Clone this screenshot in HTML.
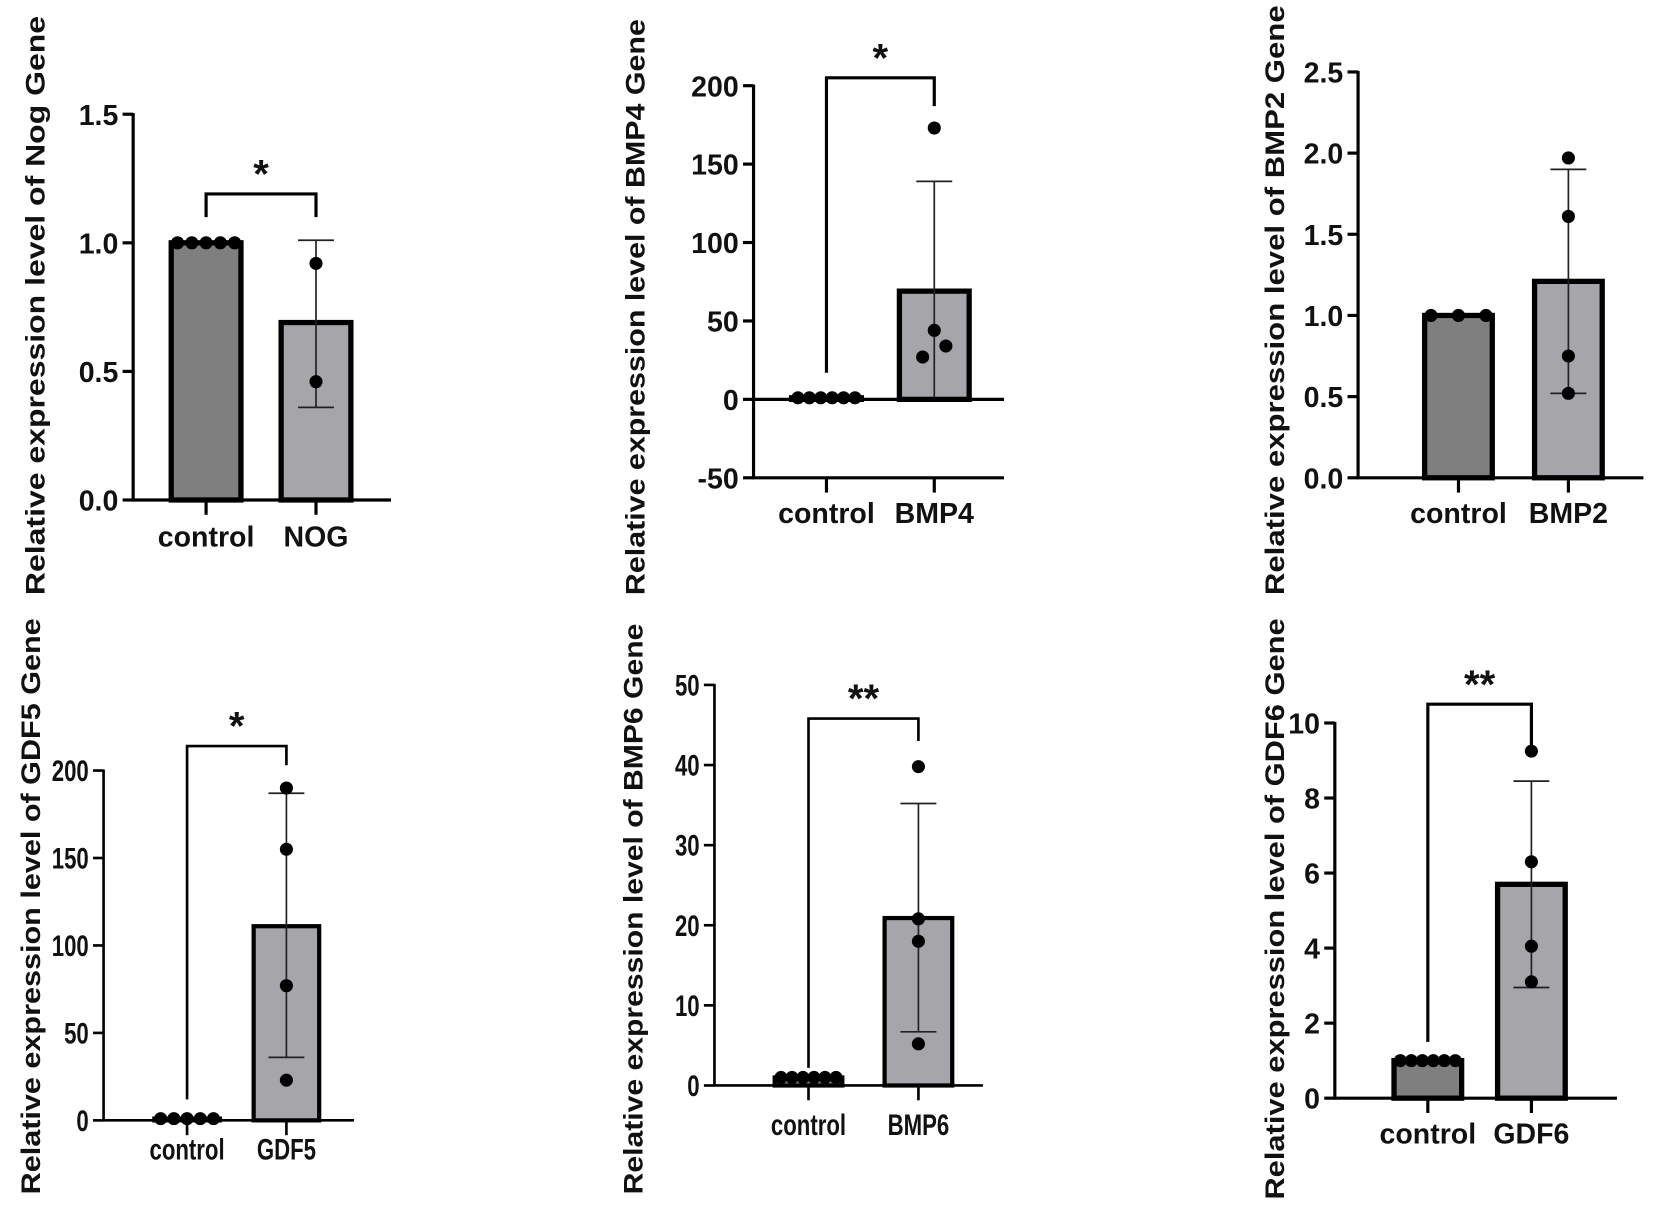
<!DOCTYPE html>
<html><head><meta charset="utf-8"><style>
html,body{margin:0;padding:0;background:#fff;}
svg{display:block;font-family:"Liberation Sans",Arial,sans-serif;}
</style></head><body>
<svg id="fig" width="1654" height="1205" viewBox="0 0 1565 1140" xmlns="http://www.w3.org/2000/svg"></svg>
<script>
// ---- data (one small set of arrays per panel) ----
const nogTicks=[0,0.5,1.0,1.5];
const nogCats=["control","NOG"];
const nogMeans=[1.0,0.69];
const nogErr=[[1,1],[0.36,1.01]];
const nogPoints=[[1,1,1,1,1],[0.92,0.46]];

const bmp4Ticks=[-50,0,50,100,150,200];
const bmp4Cats=["control","BMP4"];
const bmp4Means=[1,69];
const bmp4Err=[[1,1],[0,139]];
const bmp4Points=[[1,1,1,1,1,1],[173,44,34,27]];

const bmp2Ticks=[0,0.5,1.0,1.5,2.0,2.5];
const bmp2Cats=["control","BMP2"];
const bmp2Means=[1.0,1.21];
const bmp2Err=[[1,1],[0.52,1.90]];
const bmp2Points=[[1,1,1],[1.97,1.61,0.75,0.52]];

const gdf5Ticks=[0,50,100,150,200];
const gdf5Cats=["control","GDF5"];
const gdf5Means=[1,111];
const gdf5Err=[[1,1],[36,187]];
const gdf5Points=[[1,1,1,1,1],[190,155,77,23]];

const bmp6Ticks=[0,10,20,30,40,50];
const bmp6Cats=["control","BMP6"];
const bmp6Means=[1,20.9];
const bmp6Err=[[1,1],[6.7,35.2]];
const bmp6Points=[[1,1,1,1,1,1],[39.8,20.8,18,5.2]];

const gdf6Ticks=[0,2,4,6,8,10];
const gdf6Cats=["control","GDF6"];
const gdf6Means=[1,5.7];
const gdf6Err=[[1,1],[2.95,8.45]];
const gdf6Points=[[1,1,1,1,1,1],[9.25,6.3,4.05,3.1]];

const NS="http://www.w3.org/2000/svg";
const svg=document.getElementById('fig');
function mk(tag,attrs,parent,name){
  const e=document.createElementNS(NS,tag);
  for(const k in attrs)e.setAttribute(k,attrs[k]);
  
  
  (parent||svg).appendChild(e);return e;
}
function panel(cfg){
  const g=mk('g',{},svg,cfg.id+'-panel');
  const [d0,d1]=cfg.domain;
  const y=v=>cfg.yBot-(v-d0)/(d1-d0)*(cfg.yBot-cfg.yTop);
  const lw=cfg.lw, bw=cfg.bw;
  mk('line',{x1:cfg.ax,y1:y(d1)-1,x2:cfg.ax,y2:cfg.yBot,stroke:'#000','stroke-width':lw},g,'y-axis');
  cfg.ticks.forEach(t=>{
    mk('line',{x1:cfg.ax-10,y1:y(t),x2:cfg.ax,y2:y(t),stroke:'#000','stroke-width':lw},g,'y-tick');
    const tx=mk('text',{x:cfg.ax-14,y:y(t)+10,'text-anchor':'end','font-size':cfg.fs,'font-weight':cfg.fw,fill:'#111',transform:cfg.narrow?`translate(${(cfg.ax-14)*(1-cfg.narrow)},0) scale(${cfg.narrow},1)`:''},g,'y-tick-label');
    tx.textContent=cfg.tickFmt(t);
  });
  const ty=(cfg.tTop+cfg.tBot)/2;
  const tt=mk('text',{x:0,y:0,transform:`translate(${cfg.tx},${ty}) rotate(-90)`,'text-anchor':'middle','font-size':25,'font-weight':'bold',fill:'#111',textLength:cfg.tBot-cfg.tTop,lengthAdjust:'spacingAndGlyphs'},g,'y-axis-title');
  tt.textContent=cfg.title;
  const fills=['#7f7f7f','#a6a6aa'];
  cfg.cats.forEach((c,i)=>{
    const cx=cfg.cx[i];
    const top=y(cfg.means[i]), base=y(0);
    mk('rect',{x:cx-bw/2,y:top,width:bw,height:base-top,fill:fills[i],stroke:'#000','stroke-width':cfg.bs},g,'bar-'+c.toLowerCase());
    const [lo,hi]=cfg.err[i];
    if(hi!==lo){
      mk('line',{x1:cx,y1:y(lo),x2:cx,y2:y(hi),stroke:'#222','stroke-width':1.6},g,'error-bar');
      mk('line',{x1:cx-17,y1:y(hi),x2:cx+17,y2:y(hi),stroke:'#222','stroke-width':1.6},g,'error-cap-upper');
      mk('line',{x1:cx-17,y1:y(lo),x2:cx+17,y2:y(lo),stroke:'#222','stroke-width':1.6},g,'error-cap-lower');
    }
    const pts=cfg.points[i];
    pts.forEach((p,j)=>{
      let px=cx;
      if(i===0){px=cx-bw/2+6+(bw-12)*(pts.length>1?j/(pts.length-1):0.5);}
      else if(cfg.jitter){px=cx+cfg.jitter[j];}
      mk('circle',{cx:px,cy:y(p),r:6.2,fill:'#000'},g,'data-point');
    });
    mk('line',{x1:cx,y1:cfg.yBot,x2:cx,y2:cfg.yBot+14,stroke:'#000','stroke-width':lw},g,'x-tick');
    const lt=mk('text',{x:cx,y:cfg.labY,'text-anchor':'middle','font-size':cfg.fs,'font-weight':cfg.fw,fill:'#111',transform:cfg.narrow?`translate(${cx*(1-cfg.narrow)},0) scale(${cfg.narrow},1)`:''},g,'x-label-'+c.toLowerCase());
    lt.textContent=c;
  });
  mk('line',{x1:cfg.ax-lw/2,y1:cfg.yBot,x2:cfg.xEnd,y2:cfg.yBot,stroke:'#000','stroke-width':lw},g,'x-axis');
  if(d0<0) mk('line',{x1:cfg.ax,y1:y(0),x2:cfg.xEnd,y2:y(0),stroke:'#000','stroke-width':lw},g,'zero-line');
  if(cfg.br){
    const b=cfg.br;
    mk('polyline',{points:`${cfg.cx[0]},${y(b.l)} ${cfg.cx[0]},${y(b.top)} ${cfg.cx[1]},${y(b.top)} ${cfg.cx[1]},${y(b.r)}`,fill:'none',stroke:'#000','stroke-width':lw},g,'significance-bracket');
    const st=mk('text',{x:(cfg.cx[0]+cfg.cx[1])/2,y:y(b.top)-6,'text-anchor':'middle','font-size':38,'font-weight':'bold',fill:'#111'},g,'significance-stars');
    st.textContent=b.s;
  }
}
const f1=t=>t.toFixed(1), f0=t=>String(t);
panel({id:'nog',domain:[0,1.5],yTop:108,yBot:473,ax:126,xEnd:370,cx:[195,299],bw:66,lw:3,bs:5,fs:27,fw:'bold',tickFmt:f1,
  ticks:nogTicks,cats:nogCats,means:nogMeans,err:nogErr,points:nogPoints,labY:517,
  title:'Relative expression level of Nog Gene',tx:42,tTop:15,tBot:563,br:{top:1.19,l:1.1,r:1.1,s:'*'}});
panel({id:'bmp4',domain:[-50,200],yTop:81,yBot:452,ax:713,xEnd:950,cx:[782,884],bw:66,lw:3,bs:5,fs:27,fw:'bold',tickFmt:f0,
  ticks:bmp4Ticks,cats:bmp4Cats,means:bmp4Means,err:bmp4Err,points:bmp4Points,labY:495,jitter:[0,0,11,-11],
  title:'Relative expression level of BMP4 Gene',tx:610,tTop:18,tBot:563,br:{top:205,l:17,r:187,s:'*'}});
panel({id:'bmp2',domain:[0,2.5],yTop:68,yBot:452,ax:1285,xEnd:1555,cx:[1380,1484],bw:64,lw:3,bs:5,fs:27,fw:'bold',tickFmt:f1,
  ticks:bmp2Ticks,cats:bmp2Cats,means:bmp2Means,err:bmp2Err,points:bmp2Points,labY:495,
  title:'Relative expression level of BMP2 Gene',tx:1215,tTop:5,tBot:563});
panel({id:'gdf5',domain:[0,200],yTop:729,yBot:1060,ax:98,xEnd:335,cx:[177,271],bw:62,lw:2.5,bs:4,fs:28,fw:'bold',narrow:0.75,tickFmt:f0,
  ticks:gdf5Ticks,cats:gdf5Cats,means:gdf5Means,err:gdf5Err,points:gdf5Points,labY:1097,
  title:'Relative expression level of GDF5 Gene',tx:38,tTop:585,tBot:1130,br:{top:214,l:12,r:203,s:'*'}});
panel({id:'bmp6',domain:[0,50],yTop:648,yBot:1027,ax:676,xEnd:930,cx:[765,869],bw:64,lw:2.5,bs:4,fs:28,fw:'bold',narrow:0.75,tickFmt:f0,
  ticks:bmp6Ticks,cats:bmp6Cats,means:bmp6Means,err:bmp6Err,points:bmp6Points,labY:1074,
  title:'Relative expression level of BMP6 Gene',tx:608,tTop:590,tBot:1130,br:{top:45.8,l:2.2,r:43,s:'**'}});
panel({id:'gdf6',domain:[0,10],yTop:684,yBot:1039,ax:1263,xEnd:1530,cx:[1351,1449],bw:64,lw:3,bs:5,fs:27,fw:'bold',tickFmt:f0,
  ticks:gdf6Ticks,cats:gdf6Cats,means:gdf6Means,err:gdf6Err,points:gdf6Points,labY:1082,
  title:'Relative expression level of GDF6 Gene',tx:1215,tTop:585,tBot:1135,br:{top:10.5,l:1.5,r:9.1,s:'**'}});
</script>
</body></html>
